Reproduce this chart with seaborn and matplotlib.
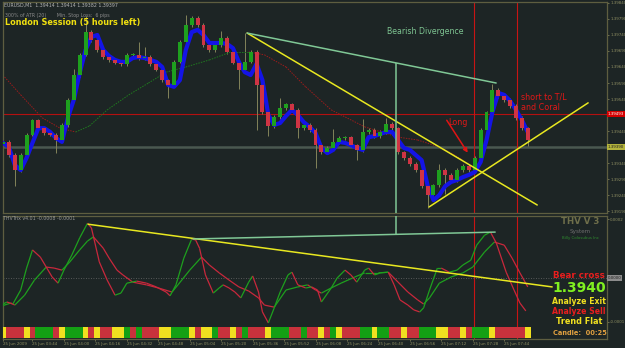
import numpy as np
import matplotlib
matplotlib.use("Agg")
import matplotlib.pyplot as plt
from matplotlib.collections import LineCollection
import seaborn as sns

sns.set_theme(style="dark")
plt.rcParams['font.family'] = ['DejaVu Sans']

BG = "#1d2525"
FRAME = "#5e5e40"
AXTXT = "#8f8f62"
C_UP = "#1ea01e"
C_DN = "#cf3444"
YEL = "#e8e820"
LGREEN = "#80c896"

# ---- price panel data (EURUSD M1, one bar every 3 minutes, minutes since 03:28) ----
bar_t = list(range(1, 270, 3))
open0 = 1.39398
closes = [1.39406, 1.39365, 1.39318, 1.39365, 1.39428, 1.39474, 1.39449, 1.39434, 1.39428, 1.39412,
          1.39459, 1.39537, 1.39615, 1.39678, 1.39749, 1.39724, 1.39693, 1.39671, 1.39662, 1.39653,
          1.39649, 1.39678, 1.39678, 1.39668, 1.39671, 1.39649, 1.39631, 1.39599, 1.39584, 1.39656,
          1.39718, 1.39771, 1.39793, 1.39771, 1.39709, 1.39693, 1.39709, 1.39731, 1.39687, 1.39653,
          1.39631, 1.39656, 1.39687, 1.39584, 1.39499, 1.39456, 1.39484, 1.39512, 1.39524, 1.39506,
          1.39449, 1.39459, 1.39443, 1.39396, 1.39374, 1.39387, 1.39406, 1.39418, 1.39421, 1.39396,
          1.39381, 1.39437, 1.39443, 1.39424, 1.39437, 1.39462, 1.39449, 1.39374, 1.39356, 1.39337,
          1.39318, 1.39268, 1.39240, 1.39271, 1.39318, 1.39303, 1.39287, 1.39318, 1.39331, 1.39318,
          1.39356, 1.39443, 1.39499, 1.39568, 1.39549, 1.39537, 1.39518, 1.39481, 1.39449, 1.39412]
# wick length beyond the body, in points (0.00001)
wick_up = [5, 5, 5, 5, 5, 5, 5, 5, 5, 5,
           5, 5, 20, 5, 50, 5, 5, 5, 5, 5,
           5, 5, 5, 40, 30, 5, 5, 5, 5, 5,
           5, 30, 5, 5, 5, 5, 5, 20, 5, 5,
           5, 90, 5, 5, 5, 5, 5, 30, 5, 5,
           5, 5, 5, 5, 5, 5, 40, 5, 5, 5,
           5, 40, 5, 5, 5, 20, 5, 5, 5, 5,
           5, 5, 5, 5, 20, 5, 5, 5, 5, 5,
           5, 5, 5, 20, 5, 5, 5, 5, 5, 5]
wick_dn = [5, 5, 50, 5, 5, 5, 5, 5, 5, 40,
           5, 5, 5, 5, 5, 5, 5, 5, 5, 5,
           5, 5, 5, 5, 5, 5, 5, 5, 40, 5,
           5, 5, 5, 5, 5, 5, 5, 5, 5, 5,
           60, 5, 5, 140, 5, 30, 5, 5, 5, 5,
           30, 5, 5, 70, 5, 5, 5, 5, 5, 5,
           30, 5, 5, 5, 5, 5, 5, 5, 5, 5,
           5, 5, 40, 5, 5, 60, 5, 5, 5, 5,
           5, 5, 5, 5, 5, 5, 5, 5, 5, 20]
blue_band = [1.39403, 1.39390, 1.39334, 1.39318, 1.39356, 1.39403, 1.39449, 1.39449, 1.39437, 1.39418,
             1.39406, 1.39481, 1.39537, 1.39621, 1.39693, 1.39734, 1.39740, 1.39693, 1.39674, 1.39662,
             1.39656, 1.39656, 1.39668, 1.39671, 1.39668, 1.39662, 1.39656, 1.39640, 1.39584, 1.39578,
             1.39599, 1.39693, 1.39749, 1.39756, 1.39740, 1.39715, 1.39715, 1.39715, 1.39712, 1.39699,
             1.39656, 1.39624, 1.39615, 1.39650, 1.39599, 1.39490, 1.39459, 1.39465, 1.39487, 1.39506,
             1.39490, 1.39468, 1.39453, 1.39434, 1.39387, 1.39371, 1.39381, 1.39406, 1.39403, 1.39396,
             1.39387, 1.39381, 1.39421, 1.39424, 1.39431, 1.39437, 1.39437, 1.39412, 1.39387, 1.39381,
             1.39365, 1.39349, 1.39271, 1.39224, 1.39240, 1.39268, 1.39281, 1.39287, 1.39296, 1.39303,
             1.39312, 1.39343, 1.39412, 1.39499, 1.39559, 1.39553, 1.39534, 1.39506, 1.39474, 1.39437]
ma_t = [0, 10, 21, 30, 38, 45, 54, 65, 75, 84, 94, 106, 117, 126, 134, 145, 155, 168, 185, 202,
        212, 223, 229, 235]
ma_v = [1.39621, 1.39553, 1.39481, 1.39449, 1.39437, 1.39456, 1.39506, 1.39553, 1.39590, 1.39624,
        1.39640, 1.39662, 1.39687, 1.39687, 1.39678, 1.39640, 1.39578, 1.39506, 1.39453, 1.39421,
        1.39412, 1.39390, 1.39371, 1.39349]

price_ticks = [1.39190, 1.39240, 1.39290, 1.39340, 1.39390, 1.39440, 1.39490, 1.39540,
               1.39590, 1.39640, 1.39690, 1.39740, 1.39790, 1.39840]
level_red = 1.39493
level_bid = 1.39390

# trendlines drawn on the chart: (minute, price)
tl_down_t, tl_down_p = [125.2, 272.8], [1.39746, 1.39209]
tl_up_t, tl_up_p = [217.8, 298.7], [1.39203, 1.39528]
div_t, div_p = [125.2, 251.9], [1.39746, 1.39590]
div_vline_t = 201.0
div_vline_p = 1.39653
vlines_red = [240.7, 262.6]
arrow_t, arrow_p = [226.0, 238.2], [1.39481, 1.39365]

# ---- THV Trix oscillator (values in 1e-5) ----
fast_t = [0, 3, 6, 10, 13, 16, 20, 23, 26, 29, 32, 36, 40, 44, 46, 50, 54, 58, 61, 64,
          69, 74, 79, 84, 86, 89, 93, 97, 99, 101, 104, 108, 111, 113, 116, 119, 122, 126, 128, 131,
          133, 136, 139, 142, 146, 148, 151, 155, 158, 161, 163, 168, 171, 175, 178, 181, 185, 187, 190, 193,
          197, 200, 203, 207, 210, 213, 215, 218, 222, 224, 228, 232, 235, 239, 242, 246, 249, 252, 257, 261,
          264, 267]
fast_v = [-5.1, -4.2, -4.8, -0.7, 5.7, 11.0, 8.9, 6.0, 3.1, 1.3, 5.1, 9.5, 14.5, 18.8, 17.4, 7.5, 2.2, -2.2, -1.6, 1.3,
          1.9, 1.3, 0.2, -1.3, -2.4, 0.8, 8.6, 14.2, 13.9, 11.5, 3.7, -1.6, -0.1, 0.8, -0.1, -1.3, -3.0, 1.6, 3.4, -1.3,
          -7.1, -10.3, -5.9, -1.3, 3.7, 4.5, 0.8, -0.1, 0.2, -0.7, -4.2, -0.1, 2.8, 5.1, 3.7, 1.6, 5.1, 5.7, 3.7, 4.3,
          4.5, 0.8, -3.6, -5.1, -6.5, -7.1, -5.9, -0.7, 5.7, 5.7, 4.5, 5.1, 6.6, 8.0, 12.4, 15.3, 16.2, 13.0, 4.5, -0.7,
          -4.5, -6.8]
slow_t = [0, 5, 7, 12, 17, 23, 27, 31, 35, 40, 44, 47, 52, 55, 59, 62, 67, 74, 80, 87,
          90, 96, 102, 106, 111, 116, 121, 126, 131, 134, 139, 145, 151, 156, 160, 163, 168, 173, 180, 185,
          192, 197, 202, 207, 212, 215, 218, 223, 229, 235, 240, 246, 251, 256, 260, 264, 268]
slow_v = [-5.4, -4.5, -5.1, -2.2, 2.2, 6.0, 5.7, 5.1, 7.5, 11.0, 13.6, 14.8, 11.5, 8.6, 5.1, 3.7, 1.6, 0.8, -0.1, -1.3,
          0.8, 5.1, 8.9, 6.6, 4.3, 2.2, 0.2, -1.0, -3.0, -5.1, -5.7, -0.7, 0.2, 0.8, -0.7, -1.6, -0.1, 1.3, 3.1, 4.3,
          4.3, 4.5, 1.6, -1.3, -3.6, -4.8, -3.0, 1.3, 3.1, 4.3, 6.0, 10.4, 13.3, 12.4, 8.6, 4.3, 0.2]
osc_level = 2.8
osc_tl_t, osc_tl_v = [44.3, 280.4], [18.5, 0.2]
osc_div_t, osc_div_v = [97.7, 251.4], [14.2, 16.2]
osc_vline_top = 15.3
osc_ticks = [20, -10]
osc_tick_labels = ["0.0002", "-0.0001"]

# signal strip, one code per bar: r = sell, g = buy, y = flat
strip_codes = ("yrrryrgggr" "ygggyryrry" "ygrgrrryyg" "ggyryygrry" "rgrrrygggr"
               "rgrryrgyrr" "rggyggrryr" "rgggyyrryr" "gggyrrrrry")
strip_colors = {"r": "#c8323c", "g": "#14a014", "y": "#f0e020"}

date_ticks = [1, 16, 32, 48, 64, 80, 96, 112, 128, 144, 160, 176, 192, 208, 224, 240, 256]
date_labels = ["25 Jun 2009", "25 Jun 03:44", "25 Jun 04:00", "25 Jun 04:16", "25 Jun 04:32",
               "25 Jun 04:48", "25 Jun 05:04", "25 Jun 05:20", "25 Jun 05:36", "25 Jun 05:52",
               "25 Jun 06:08", "25 Jun 06:24", "25 Jun 06:40", "25 Jun 06:56", "25 Jun 07:12",
               "25 Jun 07:28", "25 Jun 07:44"]

# ---- layout ----
W, H = 625, 348
fig = plt.figure(figsize=(W / 100, H / 100), dpi=100, facecolor=BG)


def rect(x0, y0, x1, y1):
    return [x0 / W, 1 - y1 / H, (x1 - x0) / W, (y1 - y0) / H]


def fx(px):
    return px / W


def fy(py):
    return 1 - py / H


ax_p = fig.add_axes(rect(3, 2, 607, 213))
ax_o = fig.add_axes(rect(3, 216, 607, 339), sharex=ax_p)
ax_s = fig.add_axes(rect(3, 327, 607, 338), sharex=ax_p)

TICK_FS = 2.9
for ax in (ax_p, ax_o):
    ax.set_facecolor(BG)
    ax.grid(False)
    for sp in ax.spines.values():
        sp.set_color(FRAME)
        sp.set_linewidth(0.9)
    ax.tick_params(axis='y', left=False, right=True, labelleft=False, labelright=True,
                   labelsize=TICK_FS, colors=AXTXT, length=1.5, width=0.5, pad=0.8)

ax_p.set_xlim(1, 308.3)
ax_p.set_ylim(1.39184, 1.39843)
ax_o.set_ylim(-15.0, 20.9)

# price panel
opens = [open0] + closes[:-1]
highs = [max(o, c) + u * 1e-5 for o, c, u in zip(opens, closes, wick_up)]
lows = [min(o, c) - d * 1e-5 for o, c, d in zip(opens, closes, wick_dn)]
ax_p.vlines(bar_t, lows, highs, color="#83835a", lw=0.7, zorder=2)
sns.lineplot(x=bar_t, y=blue_band, ax=ax_p, color="#1414e6", lw=3.0, zorder=3, sort=False)
body_bot = [min(o, c) for o, c in zip(opens, closes)]
body_h = [max(abs(c - o), 2e-5) for o, c in zip(opens, closes)]
body_col = [C_UP if c >= o else C_DN for o, c in zip(opens, closes)]
ax_p.bar(bar_t, body_h, bottom=body_bot, width=2.0, color=body_col, linewidth=0, zorder=4)

ma_seg = [[(ma_t[i], ma_v[i]), (ma_t[i + 1], ma_v[i + 1])] for i in range(len(ma_t) - 1)]
ma_col = ["#1f7a1f" if ma_v[i + 1] >= ma_v[i] else "#9a1c1c" for i in range(len(ma_t) - 1)]
ax_p.add_collection(LineCollection(ma_seg, colors=ma_col, linewidths=0.7, linestyles=(0, (1.5, 1.2)), zorder=2))

ax_p.axhline(level_red, color="#b41010", lw=0.8, zorder=1)
ax_p.axhline(level_bid, color="#4a5850", lw=1.8, zorder=1)
for t in vlines_red:
    ax_p.axvline(t, color="#c81414", lw=0.8, zorder=1)
    ax_o.axvline(t, color="#c81414", lw=0.8, zorder=1)

sns.lineplot(x=tl_down_t, y=tl_down_p, ax=ax_p, color=YEL, lw=1.1, zorder=5)
sns.lineplot(x=tl_up_t, y=tl_up_p, ax=ax_p, color=YEL, lw=1.1, zorder=5)
sns.lineplot(x=div_t, y=div_p, ax=ax_p, color=LGREEN, lw=1.1, zorder=5)
ax_p.vlines(div_vline_t, ax_p.get_ylim()[0], div_vline_p, color=LGREEN, lw=1.1, zorder=5)
ax_p.annotate("", xy=(arrow_t[1], arrow_p[1]), xytext=(arrow_t[0], arrow_p[0]),
              arrowprops=dict(arrowstyle="-|>", color="#e01414", lw=1.1, mutation_scale=6), zorder=6)

ax_p.set_yticks(price_ticks)
ax_p.set_yticklabels([f"{p:.5f}" for p in price_ticks])
ax_p.tick_params(axis='x', bottom=False, labelbottom=False)
ytr = ax_p.get_yaxis_transform()
ax_p.text(1.0015, level_red, f"{level_red:.5f}", transform=ytr, fontsize=TICK_FS, color="white",
          va="center", ha="left", clip_on=False, zorder=10,
          bbox=dict(boxstyle="square,pad=0.2", fc="#d40000", ec="none"))
ax_p.text(1.0015, level_bid, f"{level_bid:.5f}", transform=ytr, fontsize=TICK_FS, color="#202020",
          va="center", ha="left", clip_on=False, zorder=10,
          bbox=dict(boxstyle="square,pad=0.2", fc="#b4b43c", ec="none"))
# hide the plain tick labels that sit under the two boxes
for lab, p in zip(ax_p.get_yticklabels(), price_ticks):
    if abs(p - level_red) < 0.0002 or abs(p - level_bid) < 0.0002:
        lab.set_visible(False)

# oscillator panel
def slope_lines(ax, t, v):
    seg = [[(t[i], v[i]), (t[i + 1], v[i + 1])] for i in range(len(t) - 1)]
    col = [C_UP if v[i + 1] >= v[i] else "#c8283c" for i in range(len(t) - 1)]
    ax.add_collection(LineCollection(seg, colors=col, linewidths=0.9, zorder=4))

slope_lines(ax_o, slow_t, slow_v)
slope_lines(ax_o, fast_t, fast_v)
ax_o.axhline(osc_level, color="#6a6a6a", lw=0.6, ls=(0, (1, 2)), zorder=1)
sns.lineplot(x=osc_tl_t, y=osc_tl_v, ax=ax_o, color=YEL, lw=1.1, zorder=5)
sns.lineplot(x=osc_div_t, y=osc_div_v, ax=ax_o, color=LGREEN, lw=1.1, zorder=5)
ax_o.vlines(div_vline_t, osc_vline_top, ax_o.get_ylim()[1], color=LGREEN, lw=1.1, zorder=5)
ax_o.set_yticks(osc_ticks)
ax_o.set_yticklabels(osc_tick_labels)
ax_o.text(1.0015, osc_level, "0.0000", transform=ax_o.get_yaxis_transform(), fontsize=TICK_FS,
          color="#1e1e1e", va="center", ha="left", clip_on=False,
          bbox=dict(boxstyle="square,pad=0.2", fc="#8c8c8c", ec="none"))
ax_o.set_xticks(date_ticks)
ax_o.set_xticklabels(date_labels, ha="left")
ax_o.tick_params(axis='x', bottom=True, labelbottom=True, labelsize=TICK_FS, colors=AXTXT,
                 length=1.5, width=0.5, pad=0.8)

# signal strip
ax_s.bar(bar_t, [1] * len(bar_t), width=3, color=[strip_colors[c] for c in strip_codes],
         linewidth=0, align="center")
ax_s.set_ylim(0, 1)
ax_s.axis("off")

# texts
fig.text(fx(4), fy(5), "EURUSD,M1  1.39414 1.39414 1.39382 1.39397", fontsize=3.4,
         color="#b4b4b4", va="center")
fig.text(fx(5), fy(15), "300% of ATR (20)       Min. Stop Loss:  6 pips", fontsize=3.4,
         color="#8a8a8a", va="center")
fig.text(fx(5), fy(23), "London Session (5 hours left)", fontsize=5.9, fontweight="bold",
         color="#f0e010", va="center")
fig.text(fx(387), fy(31), "Bearish Divergence", fontsize=5.6, color="#7ec592", va="center")
fig.text(fx(521), fy(97), "short to T/L", fontsize=5.8, color="#e01818", va="center")
fig.text(fx(521), fy(108), "and Coral", fontsize=5.8, color="#e01818", va="center")
fig.text(fx(448), fy(122), "Long", fontsize=5.8, color="#e01818", va="center")
fig.text(fx(3), fy(219), "THVTrix v4.01 -0.0008 -0.0001", fontsize=3.4, color="#9a9a9a", va="center")
fig.text(fx(580), fy(222), "THV V 3", fontsize=6.2, fontweight="bold", color="#6e6e4a",
         ha="center", va="center")
fig.text(fx(580), fy(232), "System", fontsize=4.1, color="#6e6e6e", ha="center", va="center")
fig.text(fx(580), fy(238.5), "Billy Colosubus Inc", fontsize=2.8, color="#2e8b2e", ha="center", va="center")
fig.text(fx(579), fy(275), "Bear cross", fontsize=6.3, fontweight="bold", color="#e81e1e",
         ha="center", va="center")
fig.text(fx(579), fy(288), "1.3940", fontsize=10, fontweight="bold", color="#80f020",
         ha="center", va="center")
fig.text(fx(579), fy(302), "Analyze Exit", fontsize=5.6, fontweight="bold", color="#f0e020",
         ha="center", va="center")
fig.text(fx(579), fy(311), "Analyze Sell", fontsize=5.6, fontweight="bold", color="#e81e1e",
         ha="center", va="center")
fig.text(fx(579), fy(322), "Trend Flat", fontsize=5.9, fontweight="bold", color="#f0e020",
         ha="center", va="center")
fig.text(fx(580), fy(333), "Candle:  00:25", fontsize=4.8, fontweight="bold", color="#e0a040",
         ha="center", va="center")

fig.savefig("out.png", dpi=100, facecolor=BG)
